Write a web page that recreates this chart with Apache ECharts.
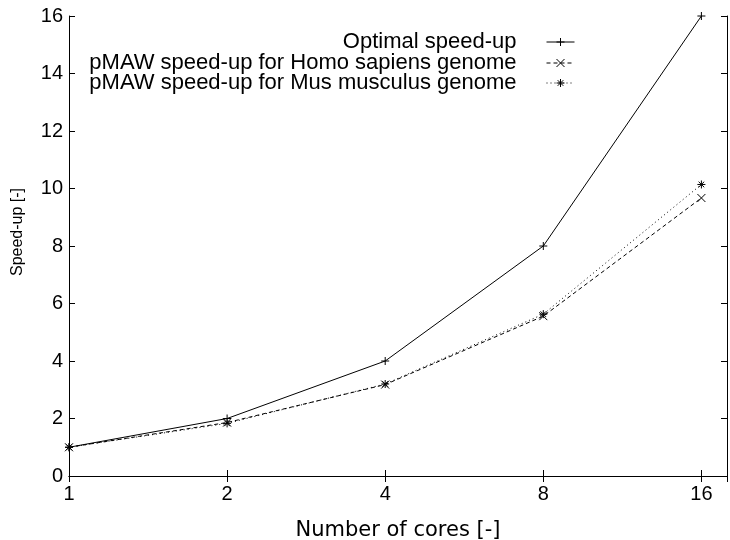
<!DOCTYPE html>
<html>
<head>
<meta charset="utf-8">
<script src="https://cdn.jsdelivr.net/npm/echarts@6/dist/echarts.min.js"></script>
<style>
  html, body { margin: 0; padding: 0; background: #fff; }
  #chart { width: 730px; height: 540px; }
</style>
</head>
<body>
<div id="chart"></div>
<script>
// number of cores (x axis, log2 spaced)
var cores = [1, 2, 4, 8, 16]
var yTicks = [0, 2, 4, 6, 8, 10, 12, 14, 16]

var optimal = [1, 2, 4, 8, 16]
var homoSapiens = [1, 1.86, 3.18, 5.56, 9.67]
var musMusculus = [1, 1.83, 3.2, 5.63, 10.14]

var names = [
  'Optimal speed-up',
  'pMAW speed-up for Homo sapiens genome',
  'pMAW speed-up for Mus musculus genome'
]

var plusPath = 'path://M5,0L5,10M0,5L10,5'
var crossPath = 'path://M0,0L10,10M10,0L0,10'
var starPath = 'path://M5,0L5,10M0,5L10,5M1.5,1.5L8.5,8.5M8.5,1.5L1.5,8.5'

function pairs(vals) {
  return cores.map(function (c, i) { return [c, vals[i]] })
}

var chart = echarts.init(document.getElementById('chart'))

var tickFmt = function (v) {
  var r = Math.round(v)
  return (Math.abs(v - r) < 1e-6 && cores.indexOf(r) >= 0) ? String(r) : ''
}

function legendRow(name, top) {
  return {
    data: [name],
    right: 155,
    top: top,
    orient: 'vertical',
    align: 'right',
    padding: 0,
    itemWidth: 28,
    itemHeight: 10,
    itemGap: 0,
    selectedMode: false,
    lineStyle: { width: 1 },
    itemStyle: { borderWidth: 1, color: 'transparent', borderColor: '#000' },
    textStyle: {
      fontFamily: 'Liberation Sans', fontSize: 22, color: '#000',
      lineHeight: 22, padding: [0, 25, 0, 0]
    }
  }
}

chart.setOption({
  animation: false,
  backgroundColor: '#fff',
  grid: { left: 69, right: 3, top: 16, bottom: 64, containLabel: false, outerBoundsMode: 'none' },
  legend: [
    legendRow(names[0], 31),
    legendRow(names[1], 52),
    legendRow(names[2], 72)
  ],
  // y axis title drawn as plain text (gnuplot puts it a bit above centre)
  graphic: [{
    type: 'text',
    x: 18,
    y: 232,
    rotation: Math.PI / 2,
    style: {
      text: 'Speed-up [-]',
      fontFamily: 'Liberation Sans',
      fontSize: 16,
      fill: '#000',
      align: 'center',
      verticalAlign: 'middle'
    }
  }],
  xAxis: [{
    type: 'log',
    logBase: 2,
    min: 1,
    max: 17.9,
    name: 'Number of cores [-]',
    nameLocation: 'middle',
    nameGap: 44,
    nameTextStyle: { fontFamily: 'DejaVu Sans', fontSize: 21, color: '#000' },
    axisLine: { lineStyle: { color: '#000', width: 1 } },
    axisTick: { inside: true, length: 6, lineStyle: { color: '#000' } },
    axisLabel: { formatter: tickFmt, fontFamily: 'Liberation Sans', fontSize: 20, color: '#000', margin: 8, showMaxLabel: false },
    splitLine: { show: false }
  }, {
    type: 'log',
    logBase: 2,
    min: 1,
    max: 17.9,
    position: 'top',
    axisLine: { lineStyle: { color: '#000', width: 1 } },
    axisTick: { inside: true, length: 6, lineStyle: { color: '#000' } },
    axisLabel: { show: false },
    splitLine: { show: false }
  }],
  yAxis: [{
    type: 'value',
    min: yTicks[0],
    max: yTicks[yTicks.length - 1],
    interval: 2,
    axisLine: { show: true, lineStyle: { color: '#000', width: 1 } },
    axisTick: { show: true, inside: true, length: 6, lineStyle: { color: '#000' } },
    axisLabel: { fontFamily: 'Liberation Sans', fontSize: 20, color: '#000', margin: 6 },
    splitLine: { show: false }
  }, {
    type: 'value',
    min: yTicks[0],
    max: yTicks[yTicks.length - 1],
    interval: 2,
    position: 'right',
    axisLine: { show: true, lineStyle: { color: '#000', width: 1 } },
    axisTick: { show: true, inside: true, length: 6, lineStyle: { color: '#000' } },
    axisLabel: { show: false },
    splitLine: { show: false }
  }],
  series: [{
    name: names[0],
    type: 'line',
    data: pairs(optimal),
    symbol: plusPath,
    symbolSize: 8,
    lineStyle: { color: '#000', width: 1, type: 'solid' },
    itemStyle: { color: '#000', borderColor: '#000', borderWidth: 1 }
  }, {
    name: names[1],
    type: 'line',
    data: pairs(homoSapiens),
    symbol: crossPath,
    symbolSize: 8,
    lineStyle: { color: '#000', width: 1, type: [4, 3] },
    itemStyle: { color: '#000', borderColor: '#000', borderWidth: 1 }
  }, {
    name: names[2],
    type: 'line',
    data: pairs(musMusculus),
    symbol: starPath,
    symbolSize: 8,
    lineStyle: { color: '#000', width: 1, type: [1, 3] },
    itemStyle: { color: '#000', borderColor: '#000', borderWidth: 1 }
  }]
})
</script>
</body>
</html>
